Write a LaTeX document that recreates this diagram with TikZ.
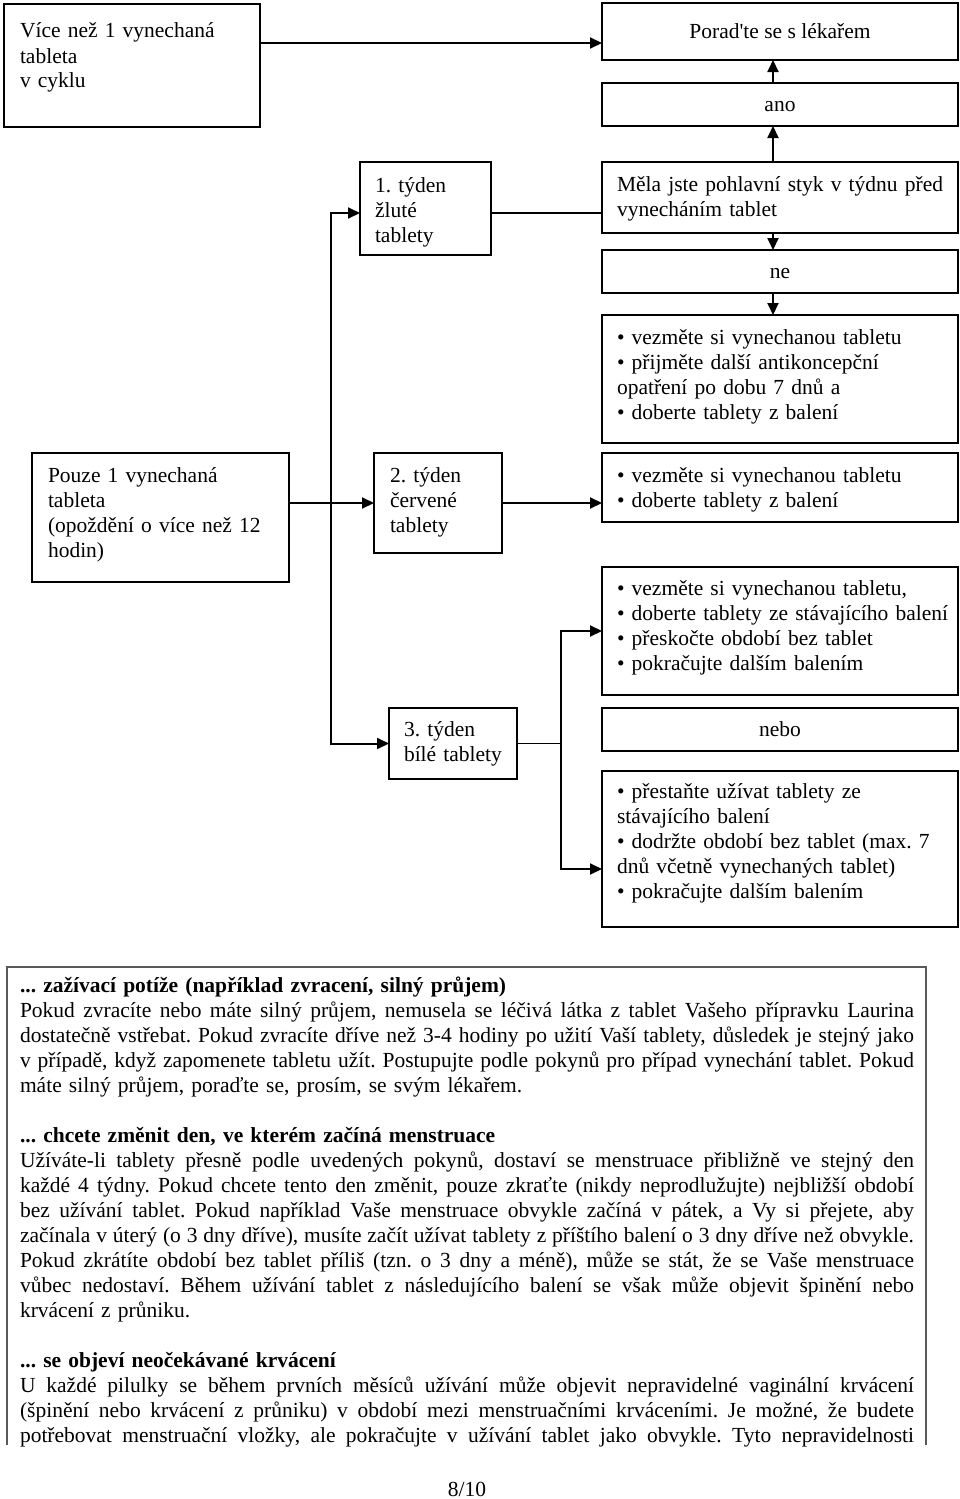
\documentclass[tikz,border=0pt]{standalone}
\usepackage{fontspec}
\setmainfont{Liberation Serif}
\usetikzlibrary{arrows.meta}
\frenchspacing
\newcommand{\jl}[1]{{\spaceskip=0.25em plus 0.6em minus 0.09em\relax\xspaceskip=\spaceskip\makebox[894pt][s]{#1}}}
\begin{document}
\begin{tikzpicture}[x=1pt,y=-1pt,
  mainfont/.style={font=\fontsize{21.5pt}{25pt}\selectfont\frenchspacing},
  box/.style={draw,line width=1.8pt,anchor=north west,inner sep=0pt,outer sep=0pt,mainfont,text height=15pt,text depth=2pt},
  txt/.style={anchor=north west,inner sep=0pt,outer sep=0pt,text width=#1,align=left,mainfont},
  arr/.style={line width=2pt,-{Triangle[length=12pt,width=11pt]}},
  plain/.style={line width=1.4pt},
  frame/.style={draw=black!65,line width=1.5pt}]
\useasboundingbox (0,0) rectangle (960,1499);

% boxes
\node[box,minimum width=256pt,minimum height=123pt] (A) at (4,4) {};
\node[box,minimum width=356pt,minimum height=57pt] (Porad) at (602,3) {Porad\textquotesingle te se s lékařem};
\node[box,minimum width=356pt,minimum height=43pt] (ano) at (602,83) {ano};
\node[box,minimum width=131pt,minimum height=93pt] (T1) at (360,162) {};
\node[box,minimum width=356pt,minimum height=71pt] (Mela) at (602,162) {};
\node[box,minimum width=356pt,minimum height=43pt] (ne) at (602,250) {ne};
\node[box,minimum width=356pt,minimum height=128pt] (B1) at (602,315) {};
\node[box,minimum width=257pt,minimum height=129pt] (Pouze) at (32,453) {};
\node[box,minimum width=128pt,minimum height=100pt] (T2) at (374,453) {};
\node[box,minimum width=356pt,minimum height=69pt] (B2) at (602,453) {};
\node[box,minimum width=356pt,minimum height=128pt] (B3) at (602,567) {};
\node[box,minimum width=128pt,minimum height=71pt] (T3) at (389,708) {};
\node[box,minimum width=356pt,minimum height=43pt] (nebo) at (602,708) {nebo};
\node[box,minimum width=356pt,minimum height=156pt] (B5) at (602,771) {};

% texts in boxes
\node[txt=240pt] (tA) at (20,20.5) {\strut Více než 1 vynechaná\\tableta\\v cyklu};
\node[txt=112pt] (tT1) at (375,174.5) {\strut 1. týden\\žluté\\tablety};
\node[txt=340pt] (tMela) at (617,173.5) {\strut Měla jste pohlavní styk v týdnu před\\vynecháním tablet};
\node[txt=340pt] (tB1) at (617,326.5) {\strut\textbullet\ vezměte si vynechanou tabletu\\\textbullet\ přijměte další antikoncepční\\opatření po dobu 7 dnů a\\\textbullet\ doberte tablety z balení};
\node[txt=240pt] (tPouze) at (48,464.5) {\strut Pouze 1 vynechaná\\tableta\\(opoždění o více než 12\\hodin)};
\node[txt=112pt] (tT2) at (390,464.5) {\strut 2. týden\\červené\\tablety};
\node[txt=340pt] (tB2) at (617,464.5) {\strut\textbullet\ vezměte si vynechanou tabletu\\\textbullet\ doberte tablety z balení};
\node[txt=340pt] (tB3) at (617,577.5) {\strut\textbullet\ vezměte si vynechanou tabletu,\\\textbullet\ doberte tablety ze stávajícího balení\\\textbullet\ přeskočte období bez tablet\\\textbullet\ pokračujte dalším balením};
\node[txt=120pt] (tT3) at (404,718.5) {\strut 3. týden\\bílé tablety};
\node[txt=340pt] (tB5) at (617,780.5) {\strut\textbullet\ přestaňte užívat tablety ze\\stávajícího balení\\\textbullet\ dodržte období bez tablet (max. 7\\dnů včetně vynechaných tablet)\\\textbullet\ pokračujte dalším balením};

% connectors
\draw[arr] ([yshift=-39pt]A.north east) -- ([yshift=-39pt]A.north east -| Porad.west);
\draw[arr] ([xshift=-7pt]ano.north) -- ([xshift=-7pt]Porad.south);
\draw[arr] ([xshift=-7pt]Mela.north) -- ([xshift=-7pt]ano.south);
\draw[arr] ([xshift=-7pt]Mela.south) -- ([xshift=-7pt]ne.north);
\draw[arr] ([xshift=-7pt]ne.south) -- ([xshift=-7pt]B1.north);
\draw[plain] ([yshift=-51pt]T1.north east) -- ([yshift=-51pt]T1.north east -| Mela.west);
\draw[arr] (Pouze.east |- T2.west) -- (T2.west);
\coordinate (J) at (331,503.5);
\draw[arr] (J) |- ([yshift=-51pt]T1.north west);
\draw[arr] (J) |- (T3.west);
\draw[arr] (T2.east) -- (T2.east -| B2.west);
\coordinate (K) at (561,743.5);
\draw[plain] (T3.east) -- (K);
\draw[arr] (K) |- (B3.west);
\draw[arr] (K) |- ([yshift=-98pt]B5.north west);

% lower text frame
\draw[frame] (7,1445) -- (7,967) -- (926,967) -- (926,1445);

\node[txt=894pt] (P1) at (20,974.5) {\strut{\bfseries ... zažívací potíže (například zvracení, silný průjem)}\\
\jl{Pokud zvracíte nebo máte silný průjem, nemusela se léčivá látka z~tablet Vašeho přípravku Laurina}\\
\jl{dostatečně vstřebat. Pokud zvracíte dříve než 3-4 hodiny po užití Vaší tablety, důsledek je stejný jako}\\
\jl{v případě, když zapomenete tabletu užít. Postupujte podle pokynů pro případ vynechání tablet. Pokud}\\
máte silný průjem, poraďte se, prosím, se svým lékařem.};

\node[txt=894pt] (P2) at (20,1124.5) {\strut{\bfseries ... chcete změnit den, ve kterém začíná menstruace}\\
\jl{Užíváte-li tablety přesně podle uvedených pokynů, dostaví se menstruace přibližně ve stejný den}\\
\jl{každé 4 týdny. Pokud chcete tento den změnit, pouze zkraťte (nikdy neprodlužujte) nejbližší období}\\
\jl{bez užívání tablet. Pokud například Vaše menstruace obvykle začíná v pátek, a Vy si přejete, aby}\\
\jl{začínala v úterý (o 3 dny dříve), musíte začít užívat tablety z příštího balení o 3 dny dříve než obvykle.}\\
\jl{Pokud zkrátíte období bez tablet příliš (tzn. o 3 dny a méně), může se stát, že se Vaše menstruace}\\
\jl{vůbec nedostaví. Během užívání tablet z následujícího balení se však může objevit špinění nebo}\\
krvácení z průniku.};

\node[txt=894pt] (P3) at (20,1349.5) {\strut{\bfseries ... se objeví neočekávané krvácení}\\
\jl{U každé pilulky se během prvních měsíců užívání může objevit nepravidelné vaginální krvácení}\\
\jl{(špinění nebo krvácení z~průniku) v období mezi menstruačními krváceními. Je možné, že budete}\\
\jl{potřebovat menstruační vložky, ale pokračujte v~užívání tablet jako obvykle. Tyto nepravidelnosti}};

\node[anchor=base,inner sep=0pt,mainfont] (pg) at (467,1496) {8/10};
\end{tikzpicture}
\end{document}
